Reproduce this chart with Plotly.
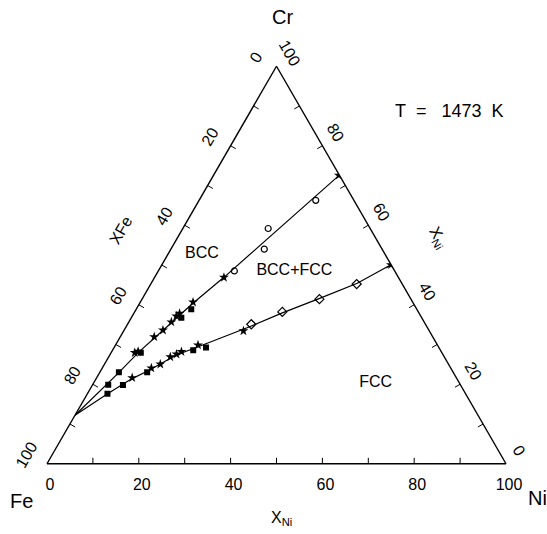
import plotly.graph_objects as go

# ---------------- data (at.%), ternary: a = Cr (top), b = Fe (left), c = Ni (right)
tick_vals = [0, 10, 20, 30, 40, 50, 60, 70, 80, 90, 100]
tick_text = ['100', '', '80', '', '60', '', '40', '', '20', '', '0']
inner_tick_vals = [10, 20, 30, 40, 50, 60, 70, 80, 90]

# BCC / (BCC+FCC) phase boundary
bcc_bnd_ni = [0.0, 4.0, 6.0, 8.5, 11.5, 15.1, 27.4]
bcc_bnd_cr = [12.2, 22.5, 28.2, 33.6, 40.2, 46.9, 72.6]

# FCC / (BCC+FCC) phase boundary
fcc_bnd_ni = [0.0, 4.4, 7.7, 10.5, 14.4, 18.0, 26.5, 32.2, 38.6, 44.9, 49.9]
fcc_bnd_cr = [12.2, 17.6, 21.3, 23.5, 27.3, 29.3, 34.2, 37.9, 41.6, 45.4, 50.05]

# filled squares
sq_ni = [3.40, 4.15, 6.47, 10.9, 11.98, 4.38, 6.63, 10.31, 17.58, 20.02]
sq_cr = [19.88, 23.02, 27.93, 36.73, 38.9, 17.58, 19.83, 23.02, 28.55, 29.25]

# filled stars
star_ni = [5.16, 5.72, 7.40, 8.47, 9.26, 9.59, 9.97, 11.49, 15.11, 27.31,
           7.75, 10.7, 12.16, 13.43, 14.43, 15.2, 17.98, 26.08, 49.91]
star_cr = [27.93, 28.25, 31.92, 33.59, 35.66, 37.16, 37.83, 40.65, 46.88, 72.57,
           21.62, 24.06, 25.06, 26.86, 27.56, 28.18, 29.85, 33.42, 50.05]

# open circles (BCC side of two-phase field)
circ_ni = [16.57, 20.34, 18.6, 25.42]
circ_cr = [48.5, 53.99, 59.18, 66.26]

# open diamonds (FCC side of two-phase field)
diam_ni = [26.96, 32.17, 38.65, 44.86]
diam_cr = [35.09, 38.2, 41.4, 45.21]

# phase-field labels
region_text = ['BCC', 'BCC+FCC', 'FCC']
region_ni = [7.4, 29.7, 61.4]
region_cr = [52.7, 48.4, 20.4]


def fe(ni, cr):
    return [100 - n - c for n, c in zip(ni, cr)]


FONT = 'Liberation Sans, Arial, Helvetica, sans-serif'

fig = go.Figure()

# inward tick marks on the three edges (ternary coordinates, tick length d in %)
d = 1.5
tk_a, tk_b, tk_c = [], [], []
for v in inner_tick_vals:
    # bottom edge (Cr = 0), position given by Ni = v
    tk_a += [0, d, None]; tk_c += [v, v - d / 2, None]; tk_b += [100 - v, 100 - v - d / 2, None]
    # left edge (Ni = 0), position given by Cr = v
    tk_a += [v, v - d / 2, None]; tk_c += [0, d, None]; tk_b += [100 - v, 100 - v - d / 2, None]
    # right edge (Fe = 0), position given by Cr = v
    tk_a += [v, v - d / 2, None]; tk_b += [0, d, None]; tk_c += [100 - v, 100 - v - d / 2, None]
fig.add_trace(go.Scatterternary(a=tk_a, b=tk_b, c=tk_c, mode='lines',
                                line=dict(color='black', width=1), hoverinfo='skip',
                                connectgaps=False))

for ni, cr in [(bcc_bnd_ni, bcc_bnd_cr), (fcc_bnd_ni, fcc_bnd_cr)]:
    fig.add_trace(go.Scatterternary(a=cr, b=fe(ni, cr), c=ni, mode='lines',
                                    line=dict(color='black', width=1.2),
                                    hoverinfo='skip'))

fig.add_trace(go.Scatterternary(a=sq_cr, b=fe(sq_ni, sq_cr), c=sq_ni, mode='markers',
                                marker=dict(symbol='square', size=6, color='black')))
fig.add_trace(go.Scatterternary(a=star_cr, b=fe(star_ni, star_cr), c=star_ni, mode='markers',
                                marker=dict(symbol='star', size=7.5, color='black',
                                            line=dict(width=0))))
fig.add_trace(go.Scatterternary(a=circ_cr, b=fe(circ_ni, circ_cr), c=circ_ni, mode='markers',
                                marker=dict(symbol='circle-open', size=6, color='black',
                                            line=dict(width=1.2))))
fig.add_trace(go.Scatterternary(a=diam_cr, b=fe(diam_ni, diam_cr), c=diam_ni, mode='markers',
                                marker=dict(symbol='diamond-open', size=7, color='black',
                                            line=dict(width=1.2))))
fig.add_trace(go.Scatterternary(a=region_cr, b=fe(region_ni, region_cr), c=region_ni,
                                mode='text', text=region_text,
                                textfont=dict(family=FONT, size=16, color='black')))


def axis_style(angle, pad):
    # outside ticks are invisible: they only set the label stand-off
    return dict(title=dict(text=''), min=0, showgrid=False,
                linecolor='black', linewidth=1.4,
                ticks='outside', ticklen=pad, tickwidth=1, tickcolor='rgba(0,0,0,0)',
                tickmode='array', tickvals=tick_vals, ticktext=tick_text,
                tickangle=angle,
                tickfont=dict(family=FONT, size=16, color='black'))


L, R, T, B = 47, 41, 66, 70
W, H = 547, 534
pw, ph = W - L - R, H - T - B


def px(x, y):
    return dict(x=(x - L) / pw, y=(H - B - y) / ph, xref='paper', yref='paper')


annotations = [
    dict(text='Cr', font=dict(size=20), **px(282, 17)),
    dict(text='Fe', font=dict(size=20), **px(21, 501)),
    dict(text='Ni', font=dict(size=20), **px(537, 498)),
    dict(text='XFe', font=dict(size=16), textangle=-60, **px(121, 231)),
    dict(text='X<sub>Ni</sub>', font=dict(size=16), textangle=60, **px(438, 237)),
    dict(text='X<sub>Ni</sub>', font=dict(size=16), **px(281, 518)),
    dict(text='T\u00a0\u00a0=\u00a0\u00a0\u00a01473\u00a0\u00a0K', font=dict(size=18), **px(449, 111)),
]
for a in annotations:
    a['showarrow'] = False
    a['font'] = dict(family=FONT, color='black', size=a['font']['size'])
    a['xanchor'] = 'center'
    a['yanchor'] = 'middle'

fig.update_layout(
    width=W, height=H, margin=dict(l=L, r=R, t=T, b=B),
    paper_bgcolor='white', plot_bgcolor='white', showlegend=False,
    ternary=dict(sum=100, bgcolor='white', domain=dict(x=[0, 1], y=[0, 1]),
                 aaxis=axis_style(-60, 10), baxis=axis_style(0, 6), caxis=axis_style(60, 5)),
    annotations=annotations,
)

fig.write_html('out.html')
